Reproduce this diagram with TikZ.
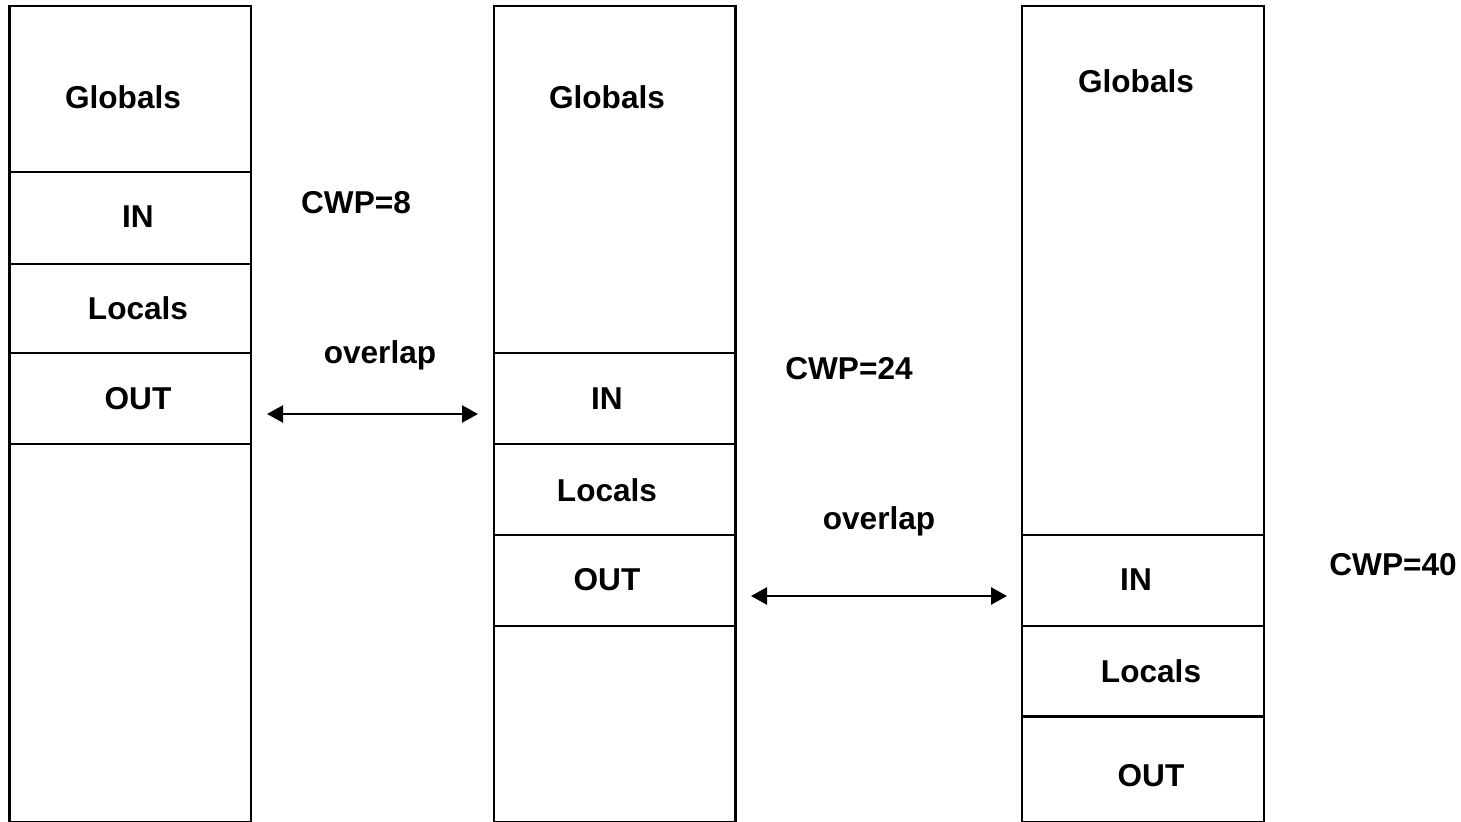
\documentclass[tikz,border=0pt]{standalone}
\usepackage{fontspec}
\setmainfont{Liberation Sans}
\usetikzlibrary{fit,arrows.meta}
\begin{document}
\begin{tikzpicture}[x=0.5pt,y=-0.5pt,
  cell/.style={draw,line width=1.4pt,inner sep=0pt,rectangle},
  lbl/.style={font=\fontsize{15.8pt}{18pt}\selectfont\bfseries,inner sep=0pt},
  overlaparrow/.style={line width=1.2pt,{Triangle[length=8pt,width=8.5pt]}-{Triangle[length=8pt,width=8.5pt]}}]
\useasboundingbox (0,0) rectangle (1461,822);

% first window
\node[cell,fit={(9.5,6) (251,172)}] (c1g) {};
\node[cell,fit={(9.5,172) (251,264)}] (c1i) {};
\node[cell,fit={(9.5,264) (251,353)}] (c1l) {};
\node[cell,fit={(9.5,353) (251,444)}] (c1o) {};
\node[cell,fit={(9.5,444) (251,822)}] (c1e) {};
\node[lbl] (t1g) at (123,97) {Globals};
\node[lbl] (t1i) at (138,217) {IN};
\node[lbl] (t1l) at (138,308) {Locals};
\node[lbl] (t1o) at (138,399) {OUT};

% second window
\node[cell,fit={(494,6) (735.5,353)}] (c2g) {};
\node[cell,fit={(494,353) (735.5,444)}] (c2i) {};
\node[cell,fit={(494,444) (735.5,535)}] (c2l) {};
\node[cell,fit={(494,535) (735.5,626)}] (c2o) {};
\node[cell,fit={(494,626) (735.5,822)}] (c2e) {};
\node[lbl] (t2g) at (607,97) {Globals};
\node[lbl] (t2i) at (607,399) {IN};
\node[lbl] (t2l) at (607,490) {Locals};
\node[lbl] (t2o) at (607,580) {OUT};

% third window
\node[cell,fit={(1022,6) (1264,535)}] (c3g) {};
\node[cell,fit={(1022,535) (1264,626)}] (c3i) {};
\node[cell,fit={(1022,626) (1264,716.5)}] (c3l) {};
\node[cell,fit={(1022,716.5) (1264,822)}] (c3o) {};
\node[lbl] (t3g) at (1136,81) {Globals};
\node[lbl] (t3i) at (1136,580) {IN};
\node[lbl] (t3l) at (1151,671) {Locals};
\node[lbl] (t3o) at (1151,776) {OUT};

% pointers and overlaps
\node[lbl] (cwp8) at (356,203) {CWP=8};
\node[lbl] (ov1) at (380,355) {overlap};
\node[lbl] (cwp24) at (849,369) {CWP=24};
\node[lbl] (ov2) at (879,521) {overlap};
\node[lbl] (cwp40) at (1393,565) {CWP=40};

\coordinate (a1s) at (267,414);
\coordinate (a1e) at (478,414);
\coordinate (a2s) at (751,596);
\coordinate (a2e) at (1007,596);
\draw[overlaparrow] (a1s) -- (a1e);
\draw[overlaparrow] (a2s) -- (a2e);
\end{tikzpicture}
\end{document}
